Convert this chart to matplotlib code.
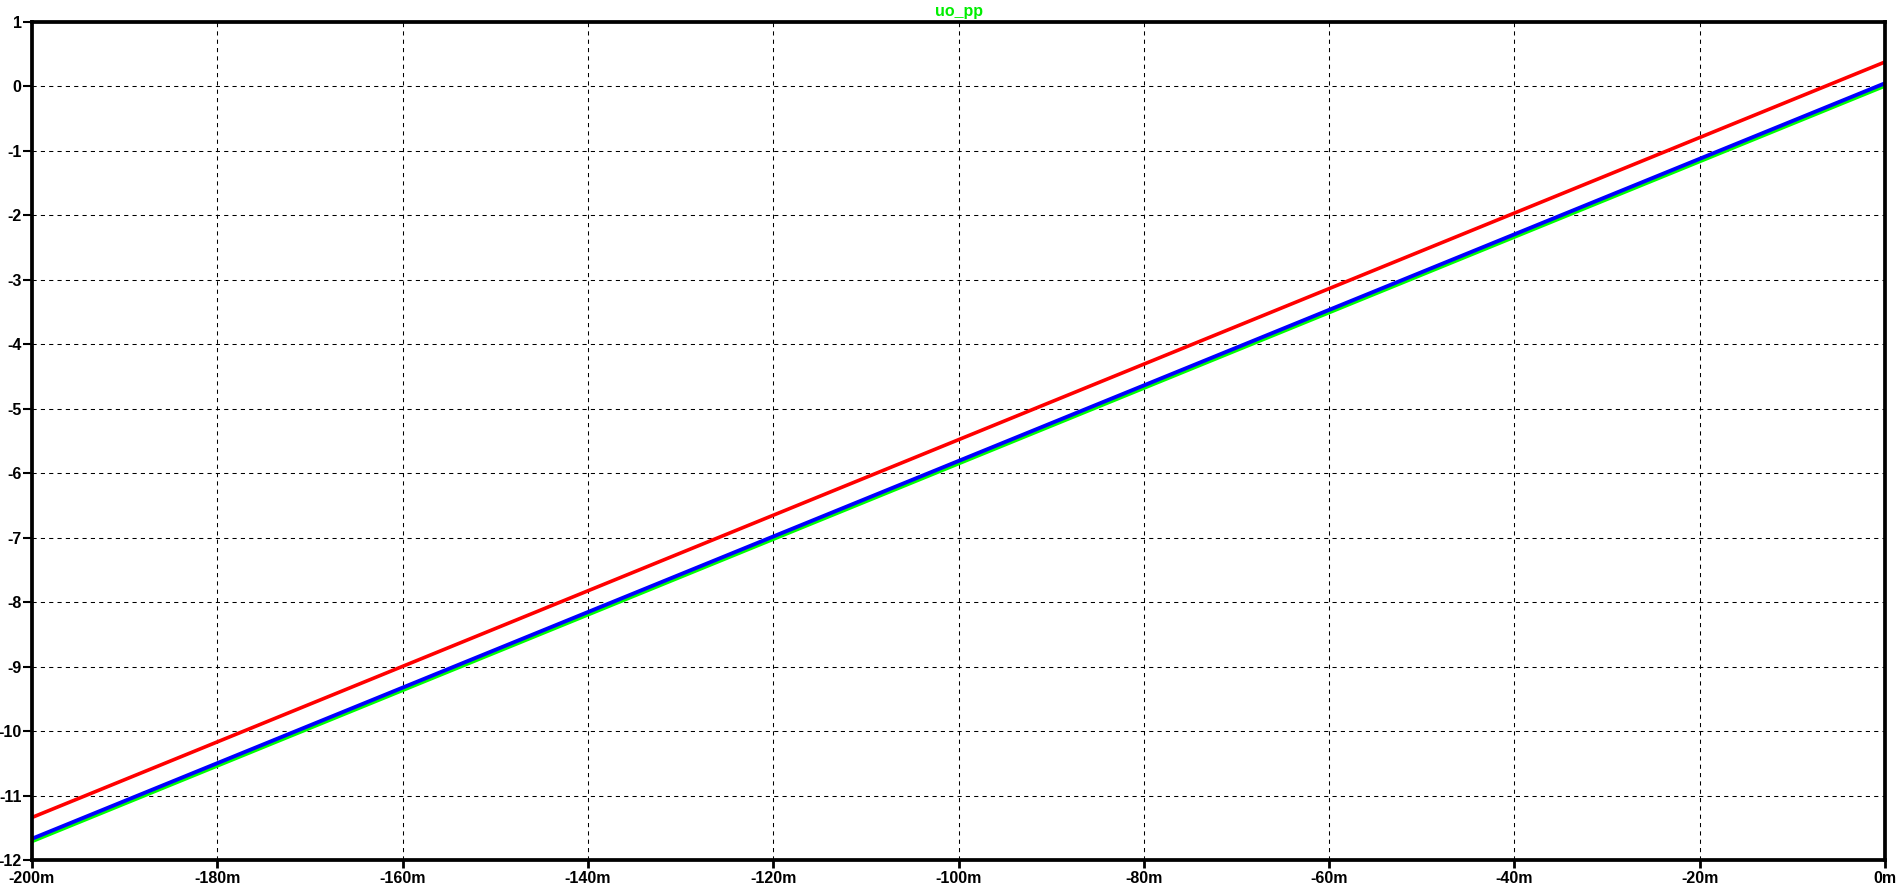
import numpy as np
import matplotlib.pyplot as plt

plt.rcParams['font.family'] = ['Liberation Sans', 'DejaVu Sans']

# sweep values (V)
x = [-0.2, -0.1, 0.0]
red = [-11.34, -5.48, 0.38]
blue = [-11.67, -5.81, 0.05]
green = [-11.71, -5.85, 0.01]

xticks = [-0.2, -0.18, -0.16, -0.14, -0.12, -0.1, -0.08, -0.06, -0.04, -0.02, 0.0]
xlabels = ['-200m', '-180m', '-160m', '-140m', '-120m', '-100m', '-80m', '-60m', '-40m', '-20m', '0m']
yticks = list(range(1, -13, -1))

fig = plt.figure(figsize=(19.01, 8.93), dpi=100)
ax = fig.add_axes([32 / 1901, 33 / 893, 1853 / 1901, 838 / 893])

ax.plot(x, green, color='#00ff00', lw=2.8, solid_capstyle='butt')
ax.plot(x, blue, color='#0000ff', lw=2.8, solid_capstyle='butt')
ax.plot(x, red, color='#ff0000', lw=2.6, solid_capstyle='butt')

ax.set_xlim(-0.2, 0)
ax.set_ylim(-12, 1)
ax.set_xticks(xticks)
ax.set_xticklabels(xlabels)
ax.set_yticks(yticks)
ax.set_yticklabels([str(v) for v in yticks])

ax.grid(True, color='black', lw=0.75, dashes=(4, 4))

for s in ax.spines.values():
    s.set_linewidth(2.7)
    s.set_color('black')

ax.tick_params(axis='x', direction='out', length=6, width=2, pad=2, labelsize=11.5)
ax.tick_params(axis='y', direction='out', length=6.5, width=1.5, pad=1, labelsize=11.5)
for lab in ax.get_xticklabels() + ax.get_yticklabels():
    lab.set_fontweight('bold')

ax.set_title('uo_pp', color='#00ee00', fontsize=11.5, fontweight='bold', pad=4)

plt.savefig('out.png', dpi=100)
